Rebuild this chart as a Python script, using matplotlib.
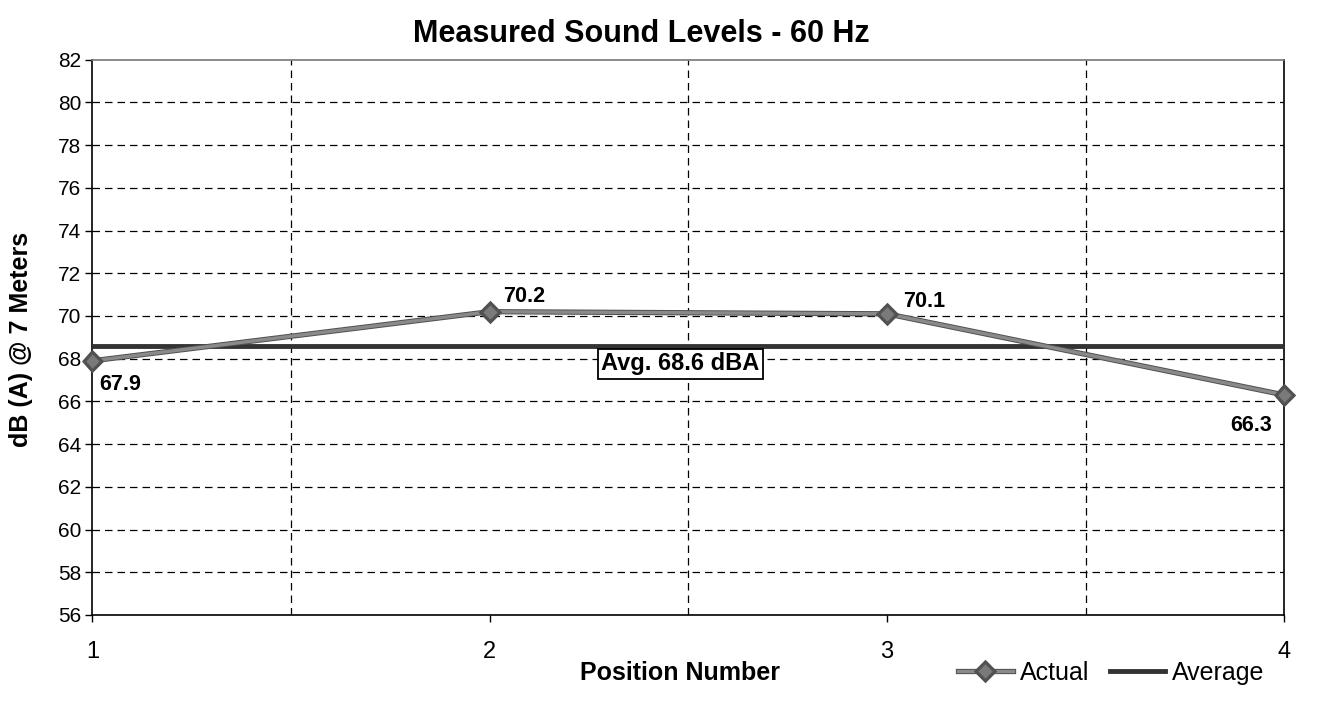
import matplotlib
matplotlib.use('Agg')
import matplotlib.pyplot as plt
import matplotlib.patheffects as pe
from matplotlib.lines import Line2D

# ---- data ----
positions = [1, 2, 3, 4]
actual = [67.9, 70.2, 70.1, 66.3]
average_value = 68.6
average = [average_value] * len(positions)
value_labels = ["67.9", "70.2", "70.1", "66.3"]
y_ticks = list(range(56, 83, 2))
x_ticks = [1, 2, 3, 4]
x_grid = [1.5, 2.5, 3.5]
title = "Measured Sound Levels - 60 Hz"
x_label = "Position Number"
y_label = "dB (A) @ 7 Meters"
avg_text = "Avg. 68.6 dBA"

plt.rcParams['font.family'] = ['Liberation Sans', 'DejaVu Sans']

fig = plt.figure(figsize=(13.2, 7.02), dpi=100)
ax = fig.add_axes([0.07, 0.124, 0.903, 0.791])

ax.set_xlim(1, 4)
ax.set_ylim(56, 82)
ax.set_yticks(y_ticks)
ax.set_xticks(x_ticks)
ax.set_xticks(x_grid, minor=True)
ax.tick_params(axis='x', which='minor', length=0)
ax.tick_params(axis='y', labelsize=15, length=5, width=1, pad=3)
ax.tick_params(axis='x', which='major', labelsize=17, length=5, width=1, pad=14)

for y in y_ticks[1:-1]:
    ax.axhline(y, color='black', lw=0.9, ls=(0, (6, 4)), zorder=1)
for x in x_grid:
    ax.axvline(x, color='black', lw=0.9, ls=(0, (6, 4)), zorder=1)

for s in ['left', 'bottom', 'right']:
    ax.spines[s].set_color('black')
    ax.spines[s].set_linewidth(1.2)
ax.spines['top'].set_color('#777777')
ax.spines['top'].set_linewidth(1.2)

# average line
ax.plot(positions, average, color='#333333', lw=3.5, zorder=3, solid_capstyle='butt')

# actual line
ax.plot(positions, actual, color='#8a8a8a', lw=2.4, zorder=4,
        marker='D', markersize=8, markerfacecolor='#7a7a7a', markeredgecolor='#555555',
        markeredgewidth=1.0, clip_on=False,
        path_effects=[pe.Stroke(linewidth=3.8, foreground='#505050'), pe.Normal()])

offsets = [(20, -17), (25, 11), (27, 9), (-24, -22)]
for x, y, t, off in zip(positions, actual, value_labels, offsets):
    ax.annotate(t, (x, y), xytext=off, textcoords='offset points',
                ha='center', va='center', fontsize=15.5, fontweight='bold', zorder=6)

ax.annotate(avg_text, (2.48, average_value), xytext=(0, -13), textcoords='offset points',
            ha='center', va='center', fontsize=17, fontweight='bold', zorder=6,
            bbox=dict(boxstyle='square,pad=0.15', fc='white', ec='black', lw=1.3))

fig.text(0.486, 0.952, title, ha='center', va='center', fontsize=22, fontweight='bold')
fig.text(0.515, 0.042, x_label, ha='center', va='center', fontsize=18, fontweight='bold')
fig.text(0.016, 0.517, y_label, ha='center', va='center', rotation=90, fontsize=18, fontweight='bold')

handles = [
    Line2D([], [], color='#8a8a8a', lw=2.4, marker='D', markersize=8,
           markerfacecolor='#7a7a7a', markeredgecolor='#555555',
           path_effects=[pe.Stroke(linewidth=3.8, foreground='#505050'), pe.Normal()]),
    Line2D([], [], color='#333333', lw=3.5),
]
fig.legend(handles, ['Actual', 'Average'], loc='center right', bbox_to_anchor=(0.975, 0.042),
           ncol=2, frameon=False, fontsize=18, handlelength=2.2, handletextpad=0.3,
           columnspacing=0.8)

fig.savefig('out.png', dpi=100)
